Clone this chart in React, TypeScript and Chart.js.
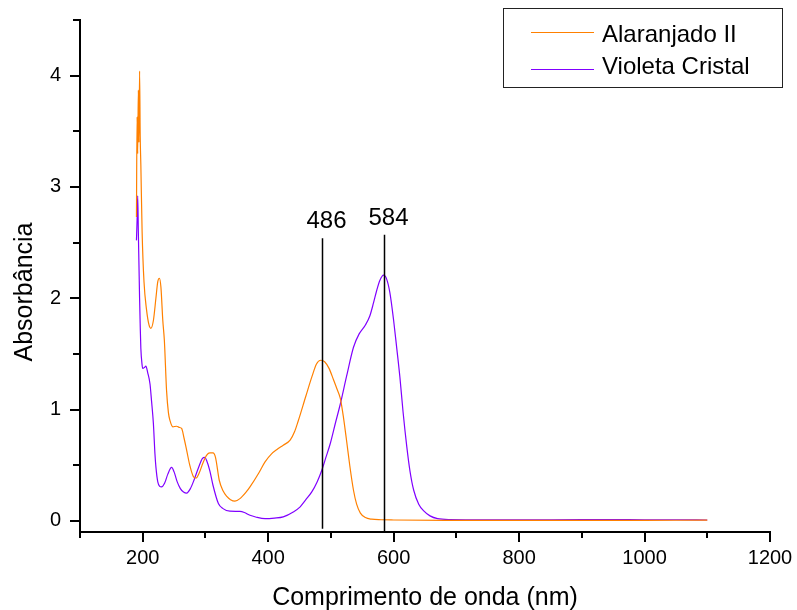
import React, { useEffect, useRef } from "react";
import { Chart, registerables } from "chart.js";

Chart.register(...registerables);

// ---- Data ----
const alaranjadoNm = [
  190, 191, 192, 193, 194, 195, 196, 197, 199, 202, 206, 210, 213, 217, 221, 224, 226.5, 229, 232, 234.5,
  238, 241, 243.5, 248, 254, 258, 262, 266, 270, 275, 281, 285, 290, 296, 302, 307, 312, 316, 322, 328,
  334, 340, 347, 355, 365, 371, 385, 395, 405, 415, 424, 435, 442, 448, 460, 470, 477, 484, 490, 497,
  504, 510, 515, 520, 525, 530, 536, 541, 547, 555, 565, 580, 600, 700, 800, 900, 1000, 1100,
];
const alaranjadoAbs = [
  2.73, 3.63, 3.3, 3.87, 3.4, 4.04, 3.45, 3.2, 2.6, 2.15, 1.9, 1.76, 1.73, 1.8, 2.0, 2.15, 2.18, 2.1, 1.8, 1.62,
  1.17, 0.97, 0.9, 0.845, 0.85, 0.84, 0.83, 0.74, 0.635, 0.5, 0.395, 0.385, 0.43, 0.52, 0.59, 0.61, 0.61, 0.57, 0.365, 0.27,
  0.22, 0.19, 0.177, 0.2, 0.26, 0.305, 0.43, 0.53, 0.6, 0.645, 0.68, 0.725, 0.8, 0.9, 1.12, 1.3, 1.41, 1.443, 1.43, 1.37,
  1.27, 1.18, 1.1, 0.93, 0.72, 0.5, 0.275, 0.15, 0.07, 0.03, 0.015, 0.01, 0.008, 0.005, 0.004, 0.004, 0.005, 0.006,
];

const violetaNm = [
  190, 191, 192, 193, 194, 195, 196, 197, 199, 200, 203, 205, 208, 211.6, 214, 217, 219.5, 221, 224, 227,
  230, 235, 240, 246, 250, 255, 260, 265, 270, 276, 282, 289, 295, 299, 302, 307, 312, 320.6, 328, 339,
  355, 362, 371, 380, 395, 410, 424, 440, 451, 460, 469.5, 478, 485.5, 492, 499, 507, 515, 525, 536,
  545, 555, 562, 568, 573, 578, 584, 589, 594, 600, 605, 610, 615, 621, 626, 632, 640, 648, 658, 670,
  690, 750, 850, 950, 1000, 1050, 1100,
];
const violetaAbs = [
  2.52, 2.7, 2.92, 2.6, 2.3, 2.0, 1.75, 1.55, 1.4, 1.37, 1.38, 1.39, 1.33, 1.23, 1.08, 0.875, 0.6, 0.485, 0.35, 0.31,
  0.305, 0.34, 0.42, 0.48, 0.44, 0.35, 0.29, 0.26, 0.25, 0.29, 0.37, 0.48, 0.56, 0.57, 0.54, 0.45, 0.32, 0.156, 0.11, 0.087,
  0.085, 0.075, 0.05, 0.035, 0.02, 0.025, 0.036, 0.08, 0.126, 0.19, 0.26, 0.35, 0.455, 0.57, 0.695, 0.875, 1.05, 1.3, 1.56,
  1.68, 1.76, 1.84, 1.96, 2.07, 2.16, 2.207, 2.17, 2.05, 1.8, 1.55, 1.29, 0.98, 0.665, 0.45, 0.275, 0.15, 0.09, 0.045, 0.02,
  0.012, 0.01, 0.01, 0.012, 0.01, 0.01, 0.008,
];

const seriesLabels = ["Alaranjado II", "Violeta Cristal"];

const xMajorTicks = [200, 400, 600, 800, 1000, 1200];
const xMinorTicks = [100, 300, 500, 700, 900, 1100];
const yMajorTicks = [0, 1, 2, 3, 4];
const yMinorTicks = [0.5, 1.5, 2.5, 3.5, 4.5];

const markerNm = [486, 584];
const markerLabels = ["486", "584"];
const markerTop = [2.54, 2.57];
const markerBottom = [-0.07, -0.1];

const FONT = "'Liberation Sans', Arial, Helvetica, sans-serif";
const ORANGE = "rgb(255,128,0)";
const PURPLE = "rgb(128,0,255)";

const decorPlugin = {
  id: "decor",
  afterDraw(chart: any) {
    const ctx: CanvasRenderingContext2D = chart.ctx;
    const xs = chart.scales.x;
    const ys = chart.scales.y;
    const area = chart.chartArea;
    ctx.save();
    ctx.strokeStyle = "#000";
    ctx.lineWidth = 2;
    const drawX = (v: number, len: number) => {
      const p = Math.round(xs.getPixelForValue(v));
      ctx.beginPath();
      ctx.moveTo(p, area.bottom);
      ctx.lineTo(p, area.bottom + len);
      ctx.stroke();
    };
    xMajorTicks.forEach((v) => drawX(v, 10));
    xMinorTicks.forEach((v) => drawX(v, 6));
    const drawY = (v: number, len: number) => {
      const p = Math.round(ys.getPixelForValue(v));
      ctx.beginPath();
      ctx.moveTo(area.left, p);
      ctx.lineTo(area.left - len, p);
      ctx.stroke();
    };
    yMajorTicks.forEach((v) => drawY(v, 10));
    yMinorTicks.forEach((v) => drawY(v, 7));

    // axis titles
    ctx.fillStyle = "#000";
    ctx.font = `25px ${FONT}`;
    ctx.textAlign = "center";
    ctx.textBaseline = "middle";
    ctx.fillText("Comprimento de onda (nm)", (area.left + area.right) / 2, 598);
    ctx.save();
    ctx.translate(25, 292);
    ctx.rotate(-Math.PI / 2);
    ctx.fillText("Absorbância", 0, 0);
    ctx.restore();

    // marker lines
    ctx.strokeStyle = "#000";
    ctx.lineWidth = 1.5;
    markerNm.forEach((nm, i) => {
      const px = Math.round(xs.getPixelForValue(nm)) + 0.5;
      const top = ys.getPixelForValue(markerTop[i]);
      const bot = ys.getPixelForValue(markerBottom[i]);
      ctx.beginPath();
      ctx.moveTo(px, top);
      ctx.lineTo(px, bot);
      ctx.stroke();
      ctx.font = `24px ${FONT}`;
      ctx.textAlign = "center";
      ctx.textBaseline = "alphabetic";
      ctx.fillText(markerLabels[i], px + 4, top - 10);
    });

    // legend
    ctx.lineWidth = 1;
    ctx.strokeStyle = "#222";
    ctx.strokeRect(503.5, 8.5, 279, 79);
    const ds = chart.data.datasets;
    const rows = [32.5, 69.5];
    const baselines = [41.5, 73.5];
    ds.forEach((d: any, i: number) => {
      ctx.strokeStyle = d.borderColor;
      ctx.lineWidth = 1.2;
      ctx.beginPath();
      ctx.moveTo(531, rows[i]);
      ctx.lineTo(594, rows[i]);
      ctx.stroke();
      ctx.fillStyle = "#000";
      ctx.font = `24px ${FONT}`;
      ctx.textAlign = "left";
      ctx.textBaseline = "alphabetic";
      ctx.fillText(d.label, 602, baselines[i]);
    });
    ctx.restore();
  },
};

export default function App() {
  const ref = useRef<HTMLCanvasElement | null>(null);
  useEffect(() => {
    document.body.style.margin = "0";
    const canvas = ref.current;
    if (!canvas) return;
    const chart = new Chart(canvas, {
      type: "line",
      data: {
        datasets: [
          {
            label: seriesLabels[0],
            data: alaranjadoNm.map((x, i) => ({ x, y: alaranjadoAbs[i] })),
            borderColor: ORANGE,
            borderWidth: 1.2,
            pointRadius: 0,
            fill: false,
            cubicInterpolationMode: "monotone",
          },
          {
            label: seriesLabels[1],
            data: violetaNm.map((x, i) => ({ x, y: violetaAbs[i] })),
            borderColor: PURPLE,
            borderWidth: 1.2,
            pointRadius: 0,
            fill: false,
            cubicInterpolationMode: "monotone",
          },
        ],
      },
      options: {
        animation: false,
        responsive: false,
        devicePixelRatio: 1,
        layout: { padding: { top: 20, right: 27, left: 0, bottom: 0 } },
        plugins: {
          legend: { display: false },
          tooltip: { enabled: false },
        },
        scales: {
          x: {
            type: "linear",
            min: 100,
            max: 1200,
            afterFit: (s: any) => {
              s.height = 78;
              s.paddingLeft = 0;
              s.paddingRight = 0;
            },
            afterBuildTicks: (s: any) => {
              s.ticks = xMajorTicks.map((v) => ({ value: v }));
            },
            grid: { display: false, drawTicks: false, tickLength: 0 },
            border: { display: true, color: "#000", width: 2 },
            ticks: {
              color: "#000",
              font: { family: FONT, size: 20 },
              padding: 14,
              maxRotation: 0,
              autoSkip: false,
              callback: (v: any) => String(v),
            },
          },
          y: {
            type: "linear",
            min: -0.1,
            max: 4.5,
            afterFit: (s: any) => {
              s.width = 80;
              s.paddingTop = 0;
              s.paddingBottom = 0;
            },
            afterBuildTicks: (s: any) => {
              s.ticks = yMajorTicks.map((v) => ({ value: v }));
            },
            grid: { display: false, drawTicks: false, tickLength: 0 },
            border: { display: true, color: "#000", width: 2 },
            ticks: {
              color: "#000",
              font: { family: FONT, size: 20 },
              padding: 19,
              autoSkip: false,
              callback: (v: any) => String(v),
            },
          },
        },
      },
      plugins: [decorPlugin],
    } as any);
    return () => chart.destroy();
  }, []);
  return <canvas ref={ref} width={797} height={610} style={{ display: "block", width: 797, height: 610 }} />;
}
